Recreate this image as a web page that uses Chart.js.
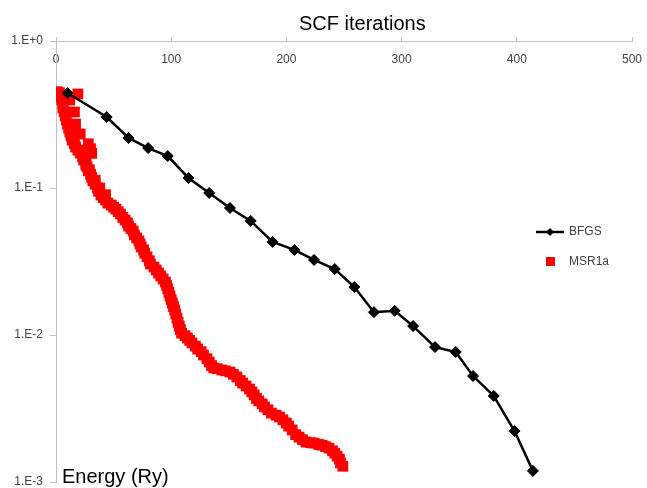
<!DOCTYPE html>
<html>
<head>
    <title>SCF iterations</title>
    <style>
        body {
            margin: 0px;
            background-color: #ffffff;
        }
        #wrap {
            width: 647px;
            height: 488px;
        }
    </style>
    <!-- Chart.js from the CDN -->
    <script src="https://cdn.jsdelivr.net/npm/chart.js"></script>
</head>
<body>
<div id="wrap"><canvas id="scfChart"></canvas></div>
<script>
// Texts
const chartTitle = 'SCF iterations';
const yAxisTitle = 'Energy (Ry)';

// BFGS run: iteration vs energy error (Ry)
const bfgsIter = [10, 44, 63, 80, 97, 115, 133, 151, 169, 188, 207, 224, 242, 259, 276, 294, 310, 329, 347, 362, 380, 398, 414];
const bfgsEnergy = [0.443, 0.304, 0.219, 0.187, 0.165, 0.117, 0.0925, 0.0731, 0.0597, 0.0430, 0.0379, 0.0324, 0.0281,
    0.0212, 0.0143, 0.0146, 0.0115, 0.00828, 0.00766, 0.00526, 0.00385, 0.00222, 0.00119];

// MSR1a run: iteration vs energy error (Ry)
const msrIter = [1, 2, 3, 4, 5, 6, 6, 7, 8, 9, 10, 11, 12, 13, 14, 16, 17, 19, 21, 19, 23, 24, 26, 27, 28, 30, 31,
    28, 30, 31, 32, 34, 36, 37, 39, 41, 43, 45, 48, 50, 52, 54, 56, 58, 60, 62, 63, 65, 67, 68, 70, 72, 73, 74, 76,
    77, 79, 81, 82, 85, 87, 89, 91, 93, 95, 96, 97, 98, 99, 100, 101, 102, 103, 104, 105, 106, 107, 108, 109, 112,
    114, 116, 118, 121, 123, 126, 128, 131, 133, 135, 137, 140, 144, 147, 151, 154, 157, 160, 162, 165, 168, 170,
    172, 174, 176, 179, 181, 184, 187, 191, 194, 197, 200, 202, 205, 208, 211, 214, 217, 221, 224, 228, 231, 234,
    237, 240, 242, 244, 246, 247, 249,
    12, 16, 17, 21, 26, 29, 34, 38, 43];
const msrEnergy = [0.452, 0.440, 0.445, 0.420, 0.397, 0.372, 0.350, 0.330, 0.309, 0.290, 0.272, 0.255, 0.240, 0.226,
    0.212, 0.200, 0.190, 0.181, 0.173, 0.436, 0.164, 0.155, 0.147, 0.139, 0.200, 0.185, 0.172,
    0.131, 0.124, 0.118, 0.112, 0.106, 0.100, 0.095, 0.0896, 0.086, 0.0828, 0.079, 0.0766, 0.074, 0.0719, 0.069,
    0.0665, 0.063, 0.0605, 0.058, 0.0551, 0.053, 0.0510, 0.048, 0.0457, 0.0436, 0.0416, 0.0397, 0.0379,
    0.036, 0.0340, 0.032, 0.0304, 0.029, 0.0277, 0.0264, 0.0252, 0.024, 0.0229, 0.0217, 0.0206, 0.0195, 0.0184,
    0.0174, 0.0165, 0.0156, 0.0148, 0.0139, 0.0130, 0.0122, 0.0115, 0.0109, 0.0103, 0.0099,
    0.00955, 0.0092, 0.00883, 0.0084, 0.00803, 0.0077, 0.00731, 0.0069, 0.00655, 0.0062, 0.00597, 0.0059, 0.00578,
    0.0057, 0.00560, 0.0054, 0.00518, 0.0049, 0.00471, 0.0045, 0.00429, 0.0041,
    0.00391, 0.0037, 0.00356, 0.0034, 0.00324, 0.0031, 0.00294, 0.00285, 0.00277, 0.00265, 0.00252, 0.0024,
    0.00226, 0.0021, 0.00202, 0.00194, 0.00187, 0.00185, 0.00184, 0.0018, 0.00178, 0.00174,
    0.00170, 0.00163, 0.00157, 0.0015, 0.00143, 0.00135, 0.00128,
    0.397, 0.329, 0.272, 0.233, 0.143, 0.133, 0.113, 0.100, 0.090];

// Axis ticks
const xTickStep = 100;
const yTickValues = [1, 0.1, 0.01, 0.001];
const yTickLabels = ['1.E+0', '1.E-1', '1.E-2', '1.E-3'];

const axisGray = '#bfbfbf';
const labelGray = '#404040';
const fontFamily = '"Liberation Sans", Arial, sans-serif';

// small canvas images used as legend markers
function legendMarker(kind) {
    const c = document.createElement('canvas');
    c.width = 28;
    c.height = 12;
    const g = c.getContext('2d');
    if (kind === 'line') {
        g.strokeStyle = '#000000';
        g.lineWidth = 2.5;
        g.beginPath();
        g.moveTo(0, 6);
        g.lineTo(28, 6);
        g.stroke();
        g.fillStyle = '#000000';
        g.beginPath();
        g.moveTo(14, 2);
        g.lineTo(18, 6);
        g.lineTo(14, 10);
        g.lineTo(10, 6);
        g.closePath();
        g.fill();
    } else {
        g.fillStyle = '#ff0000';
        g.fillRect(10, 1, 9, 9);
    }
    return c;
}
const markers = [legendMarker('line'), legendMarker('square')];

// puts the legend inside the plot, on the right
const placeLegend = {
    id: 'placeLegend',
    afterLayout(chart) {
        const lg = chart.legend;
        if (!lg) return;
        lg.left = 519;
        lg.top = 208;
        lg.right = lg.left + 110;
        lg.bottom = lg.top + 100;
    }
};

// chart title and y axis title, where the original has them
const textLabels = {
    id: 'textLabels',
    afterDraw(chart) {
        const ctx = chart.ctx;
        ctx.save();
        ctx.fillStyle = '#000000';
        ctx.font = '20px ' + fontFamily;
        ctx.textAlign = 'left';
        ctx.textBaseline = 'alphabetic';
        ctx.fillText(chartTitle, 299, 30);
        ctx.fillText(yAxisTitle, 62, 483);
        ctx.restore();
    }
};

const ctx = document.getElementById('scfChart').getContext('2d');

const scfChart = new Chart(ctx, {
    type: 'scatter',
    data: {
        datasets: [{
            label: 'BFGS',
            data: bfgsIter.map((x, i) => ({ x: x, y: bfgsEnergy[i] })),
            showLine: true,
            tension: 0,
            borderColor: '#000000',
            borderWidth: 2.5,
            backgroundColor: '#000000',
            pointStyle: 'rectRot',
            pointRadius: 5.5,
            pointBorderWidth: 1,
            pointBackgroundColor: '#000000',
            pointBorderColor: '#000000'
        }, {
            label: 'MSR1a',
            data: msrIter.map((x, i) => ({ x: x, y: msrEnergy[i] })),
            showLine: false,
            backgroundColor: '#ff0000',
            borderColor: '#ff0000',
            pointStyle: 'rect',
            pointRadius: 7.6,
            pointBorderWidth: 0
        }]
    },
    options: {
        responsive: true,
        maintainAspectRatio: false,
        animation: false,
        layout: {
            autoPadding: false,
            padding: { top: 0, left: 0, right: 15, bottom: 6 }
        },
        plugins: {
            title: { display: false },
            tooltip: { enabled: false },
            legend: {
                display: true,
                position: 'chartArea',
                align: 'start',
                labels: {
                    usePointStyle: true,
                    pointStyleWidth: 26,
                    padding: 18,
                    color: labelGray,
                    font: { family: fontFamily, size: 12 },
                    generateLabels(chart) {
                        const items = Chart.defaults.plugins.legend.labels.generateLabels(chart);
                        items.forEach((it, i) => { it.pointStyle = markers[i]; });
                        return items;
                    }
                }
            }
        },
        scales: {
            x: {
                type: 'linear',
                position: 'top',
                min: 0,
                max: 500,
                afterFit(scale) {
                    scale.height = 41;
                    scale.paddingLeft = 0;
                    scale.paddingRight = 0;
                },
                ticks: {
                    stepSize: xTickStep,
                    mirror: true,
                    padding: 11,
                    color: labelGray,
                    font: { family: fontFamily, size: 12 }
                },
                grid: {
                    display: true,
                    drawOnChartArea: false,
                    drawTicks: true,
                    tickLength: 4,
                    color: axisGray
                },
                border: { display: true, color: axisGray, width: 1 }
            },
            y: {
                type: 'logarithmic',
                min: 0.001,
                max: 1,
                afterFit(scale) {
                    scale.width = 56;
                    scale.paddingTop = 0;
                    scale.paddingBottom = 0;
                },
                afterBuildTicks(scale) {
                    scale.ticks = yTickValues.map(v => ({ value: v }));
                },
                ticks: {
                    padding: 7,
                    color: labelGray,
                    font: { family: fontFamily, size: 12 },
                    callback: (v) => yTickLabels[yTickValues.indexOf(v)]
                },
                grid: {
                    display: true,
                    drawOnChartArea: false,
                    drawTicks: true,
                    tickLength: 6,
                    color: axisGray
                },
                border: { display: true, color: axisGray, width: 1 }
            }
        }
    },
    plugins: [placeLegend, textLabels]
});
</script>
</body>
</html>
